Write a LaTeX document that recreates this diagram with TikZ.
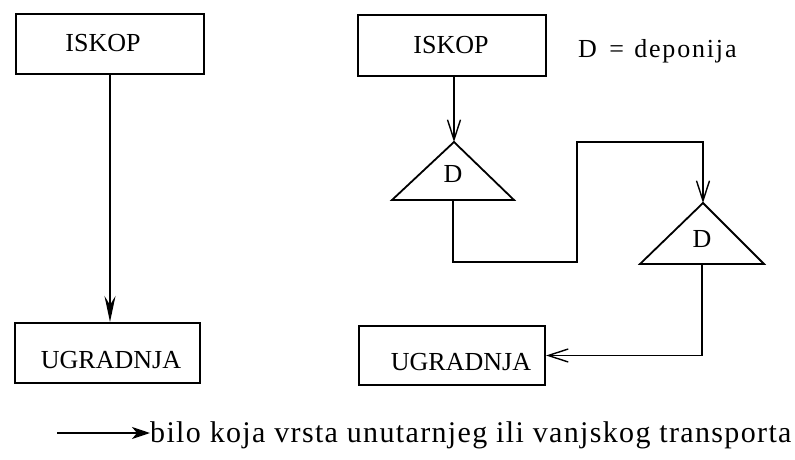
\documentclass[tikz,border=0pt]{standalone}
\usepackage{fontspec}
\setmainfont{Liberation Serif}
\newfontfamily\spacedfont[LetterSpace=7]{Liberation Serif}
\newfontfamily\legendfont[LetterSpace=4.5]{Liberation Serif}
\usetikzlibrary{arrows.meta}
\begin{document}
\begin{tikzpicture}[x=1pt,y=-1pt,
  box/.style={draw, line width=2pt, inner sep=0pt},
  txt/.style={anchor=base, inner sep=0pt, font=\fontsize{26}{30}\selectfont},
  flow/.style={line width=1.8pt, -{Stealth[length=26pt,width=11pt,inset=9pt]}},
  barb/.style={-{Straight Barb[length=20pt,width=13pt,line width=1.4pt]}},
  wire/.style={line width=1.8pt, line join=miter}]
\useasboundingbox (0,0) rectangle (795,460);

% left column: direct route
\node[box, minimum width=188pt, minimum height=60pt] (iskL) at (110,44) {};
\node[txt] (iskLt) at (103,52) {ISKOP};
\node[box, minimum width=185pt, minimum height=60pt] (ugrL) at (107.5,353) {};
\node[txt] (ugrLt) at (111,368) {UGRADNJA};
\draw[flow] (iskL.south) -- (iskL.south |- ugrL.north);

% right column: route over two dumps
\node[box, minimum width=188pt, minimum height=61pt] (iskR) at (452,45.5) {};
\node[txt] (iskRt) at (451,53) {ISKOP};
\node[box, minimum width=186pt, minimum height=59pt] (ugrR) at (452,355.5) {};
\node[txt] (ugrRt) at (461,370) {UGRADNJA};
\node[txt, anchor=base west, font=\spacedfont\fontsize{26}{30}\selectfont] (legD) at (578,58) {D\hspace{4pt} = \hspace{2pt}deponija};

% first dump
\coordinate (t1top) at (454,142);
\coordinate (t1l) at (392,200);
\coordinate (t1r) at (514,200);
\coordinate (t1bot) at (453,200);
\draw[wire] (t1top) -- (t1l) -- (t1r) -- cycle;
\node[txt] (d1) at (453,182) {D};

% second dump
\coordinate (t2top) at (703,203);
\coordinate (t2l) at (640,264);
\coordinate (t2r) at (764,264);
\coordinate (t2bot) at (702,264);
\draw[wire] (t2top) -- (t2l) -- (t2r) -- cycle;
\node[txt] (d2) at (702,247) {D};

% transport routes
\draw[wire, barb] (iskR.south -| t1top) -- (t1top);
\draw[wire, barb] (t1bot) -- (453,262) -- (577,262) -- (577,142) -- (703,142) -- (t2top);
\draw[wire, barb] (t2bot) -- (t2bot |- ugrR.east) -- (ugrR.east);

% legend
\node[txt, anchor=base west, font=\legendfont\fontsize{30}{34}\selectfont] (legT) at (150,442) {bilo koja vrsta unutarnjeg ili vanjskog transporta};
\coordinate (legA) at (57,433);
\draw[flow, line width=2.2pt, -{Stealth[length=18pt,width=12pt,inset=5pt]}] (legA) -- (legA -| legT.west);
\end{tikzpicture}
\end{document}
